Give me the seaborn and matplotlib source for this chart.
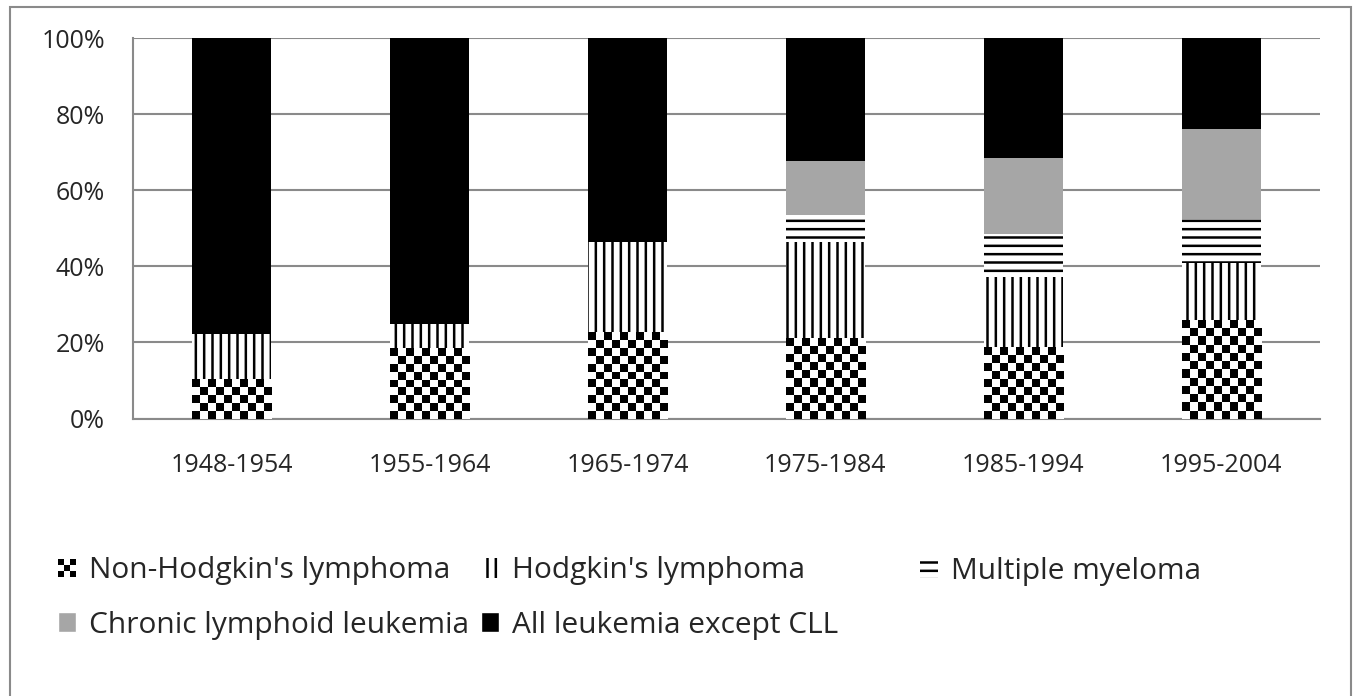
import numpy as np
import matplotlib
matplotlib.use("Agg")
import matplotlib.pyplot as plt
import seaborn as sns
from matplotlib.patches import Patch, Rectangle
from matplotlib.legend_handler import HandlerBase

# Share of cases (%) per period
periods = ['1948-1954', '1955-1964', '1965-1974', '1975-1984', '1985-1994', '1995-2004']
non_hodgkin = [10.3, 18.5, 22.8, 21.1, 18.9, 25.9]
hodgkin = [11.8, 6.4, 23.6, 25.4, 18.4, 14.9]
myeloma = [0.0, 0.0, 0.0, 7.0, 11.2, 11.6]
cll = [0.0, 0.0, 0.0, 14.3, 20.0, 23.7]
other_leukemia = [77.9, 75.1, 53.6, 32.2, 31.5, 23.9]

labels = ["Non-Hodgkin's lymphoma", "Hodgkin's lymphoma", "Multiple myeloma",
          "Chronic lymphoid leukemia", "All leukemia except CLL"]

sns.set_style("white")
plt.rcParams['font.family'] = ['Open Sans', 'DejaVu Sans']
plt.rcParams['hatch.linewidth'] = 1.8

GRID = '#8a8a8a'

fig = plt.figure(figsize=(13.54, 6.96), dpi=100)
ax = fig.add_axes([133 / 1354, 1 - 418.5 / 696, (1320 - 133) / 1354, (418.5 - 38) / 696])

# stacked bars: draw cumulative totals from the top layer down, each covering the ones below
layers = [non_hodgkin, hodgkin, myeloma, cll, other_leukemia]
styles = [('white', None), ('white', '||'), ('white', '--'), ('#a6a6a6', None), ('black', None)]
cums = np.cumsum(np.array(layers), axis=0)

layer_patches = {}
for i in range(len(layers) - 1, -1, -1):
    fc, hatch = styles[i]
    n0 = len(ax.patches)
    sns.barplot(x=periods, y=cums[i], color=fc, saturation=1, width=0.4,
                errorbar=None, ax=ax, zorder=3)
    new = ax.patches[n0:]
    for p in new:
        p.set_facecolor(fc)
        p.set_edgecolor('black')
        p.set_linewidth(0)
        if hatch:
            p.set_hatch(hatch)
    layer_patches[i] = new

# checkerboard texture for the non-Hodgkin's lymphoma segment
px_per_unit = (418.5 - 38) / 100
for p in layer_patches[0]:
    x0, w, h = p.get_x(), p.get_width(), p.get_height()
    rows = max(1, int(round(h * px_per_unit / 8)))
    yy, xx = np.indices((rows, 10))
    board = ((xx + yy) % 2).astype(float)
    ax.imshow(board, cmap='gray', extent=(x0, x0 + w, 0, h), aspect='auto',
              interpolation='nearest', zorder=4)

ax.set_xlim(-0.5, len(periods) - 0.5)
ax.set_ylim(0, 100)
ax.set_yticks(np.arange(0, 101, 20))
ax.set_yticklabels([f'{v}%' for v in range(0, 101, 20)])
ax.set_xlabel('')
ax.set_ylabel('')

ax.yaxis.grid(True, color=GRID, linewidth=1.5, zorder=0)
ax.set_axisbelow(True)
for s in ['top', 'right']:
    ax.spines[s].set_visible(False)
for s in ['left', 'bottom']:
    ax.spines[s].set_color(GRID)
    ax.spines[s].set_linewidth(1.5)

ax.tick_params(axis='y', length=7.2, width=1.5, color=GRID, pad=13, labelsize=18, direction='out')
ax.tick_params(axis='x', which='major', length=0, pad=24.5, labelsize=18)
ax.set_xticks(np.arange(-0.5, len(periods), 1), minor=True)
ax.tick_params(axis='x', which='minor', length=5.8, width=1.5, color=GRID, direction='out')


class CheckerHandler(HandlerBase):
    def create_artists(self, legend, orig_handle, xdescent, ydescent, width, height, fontsize, trans):
        size = min(width, height)
        c = size / 3
        x0 = -xdescent + (width - size) / 2
        y0 = -ydescent + (height - size) / 2
        arts = [Rectangle((x0, y0), size, size, facecolor='white', edgecolor='none', transform=trans)]
        for i in range(3):
            for j in range(3):
                if (i + j) % 2 == 0:
                    arts.append(Rectangle((x0 + i * c, y0 + j * c), c, c, facecolor='black',
                                          edgecolor='none', transform=trans))
        return arts


h_nhl = Patch(facecolor='white', label=labels[0])
h_hl = Patch(facecolor='white', edgecolor='black', linewidth=0, hatch='||', label=labels[1])
h_mm = Patch(facecolor='white', edgecolor='black', linewidth=0, hatch='--', label=labels[2])
h_cll = Patch(facecolor='#a6a6a6', label=labels[3])
h_oth = Patch(facecolor='black', label=labels[4])

leg_kw = dict(frameon=False, fontsize=21.5, handlelength=0.6, handleheight=0.65,
              handletextpad=0.45, labelspacing=0.85, borderpad=0, borderaxespad=0,
              loc='center left', bbox_transform=fig.transFigure,
              handler_map={h_nhl: CheckerHandler()})
columns = [([h_nhl, h_cll], 58, (571 + 625) / 2), ([h_hl, h_oth], 481, (571 + 625) / 2),
           ([h_mm], 920, 571)]
for hs, xpix, ypix in columns:
    leg = fig.legend(handles=hs, bbox_to_anchor=(xpix / 1354, 1 - ypix / 696), **leg_kw)

# gray frame around the whole chart area
fig.add_artist(Rectangle((10 / 1354, -0.02), (1351 - 10) / 1354, 1.02 - 7 / 696,
                         transform=fig.transFigure, fill=False, edgecolor=GRID, linewidth=1.5))

fig.savefig('out.png', dpi=100)
